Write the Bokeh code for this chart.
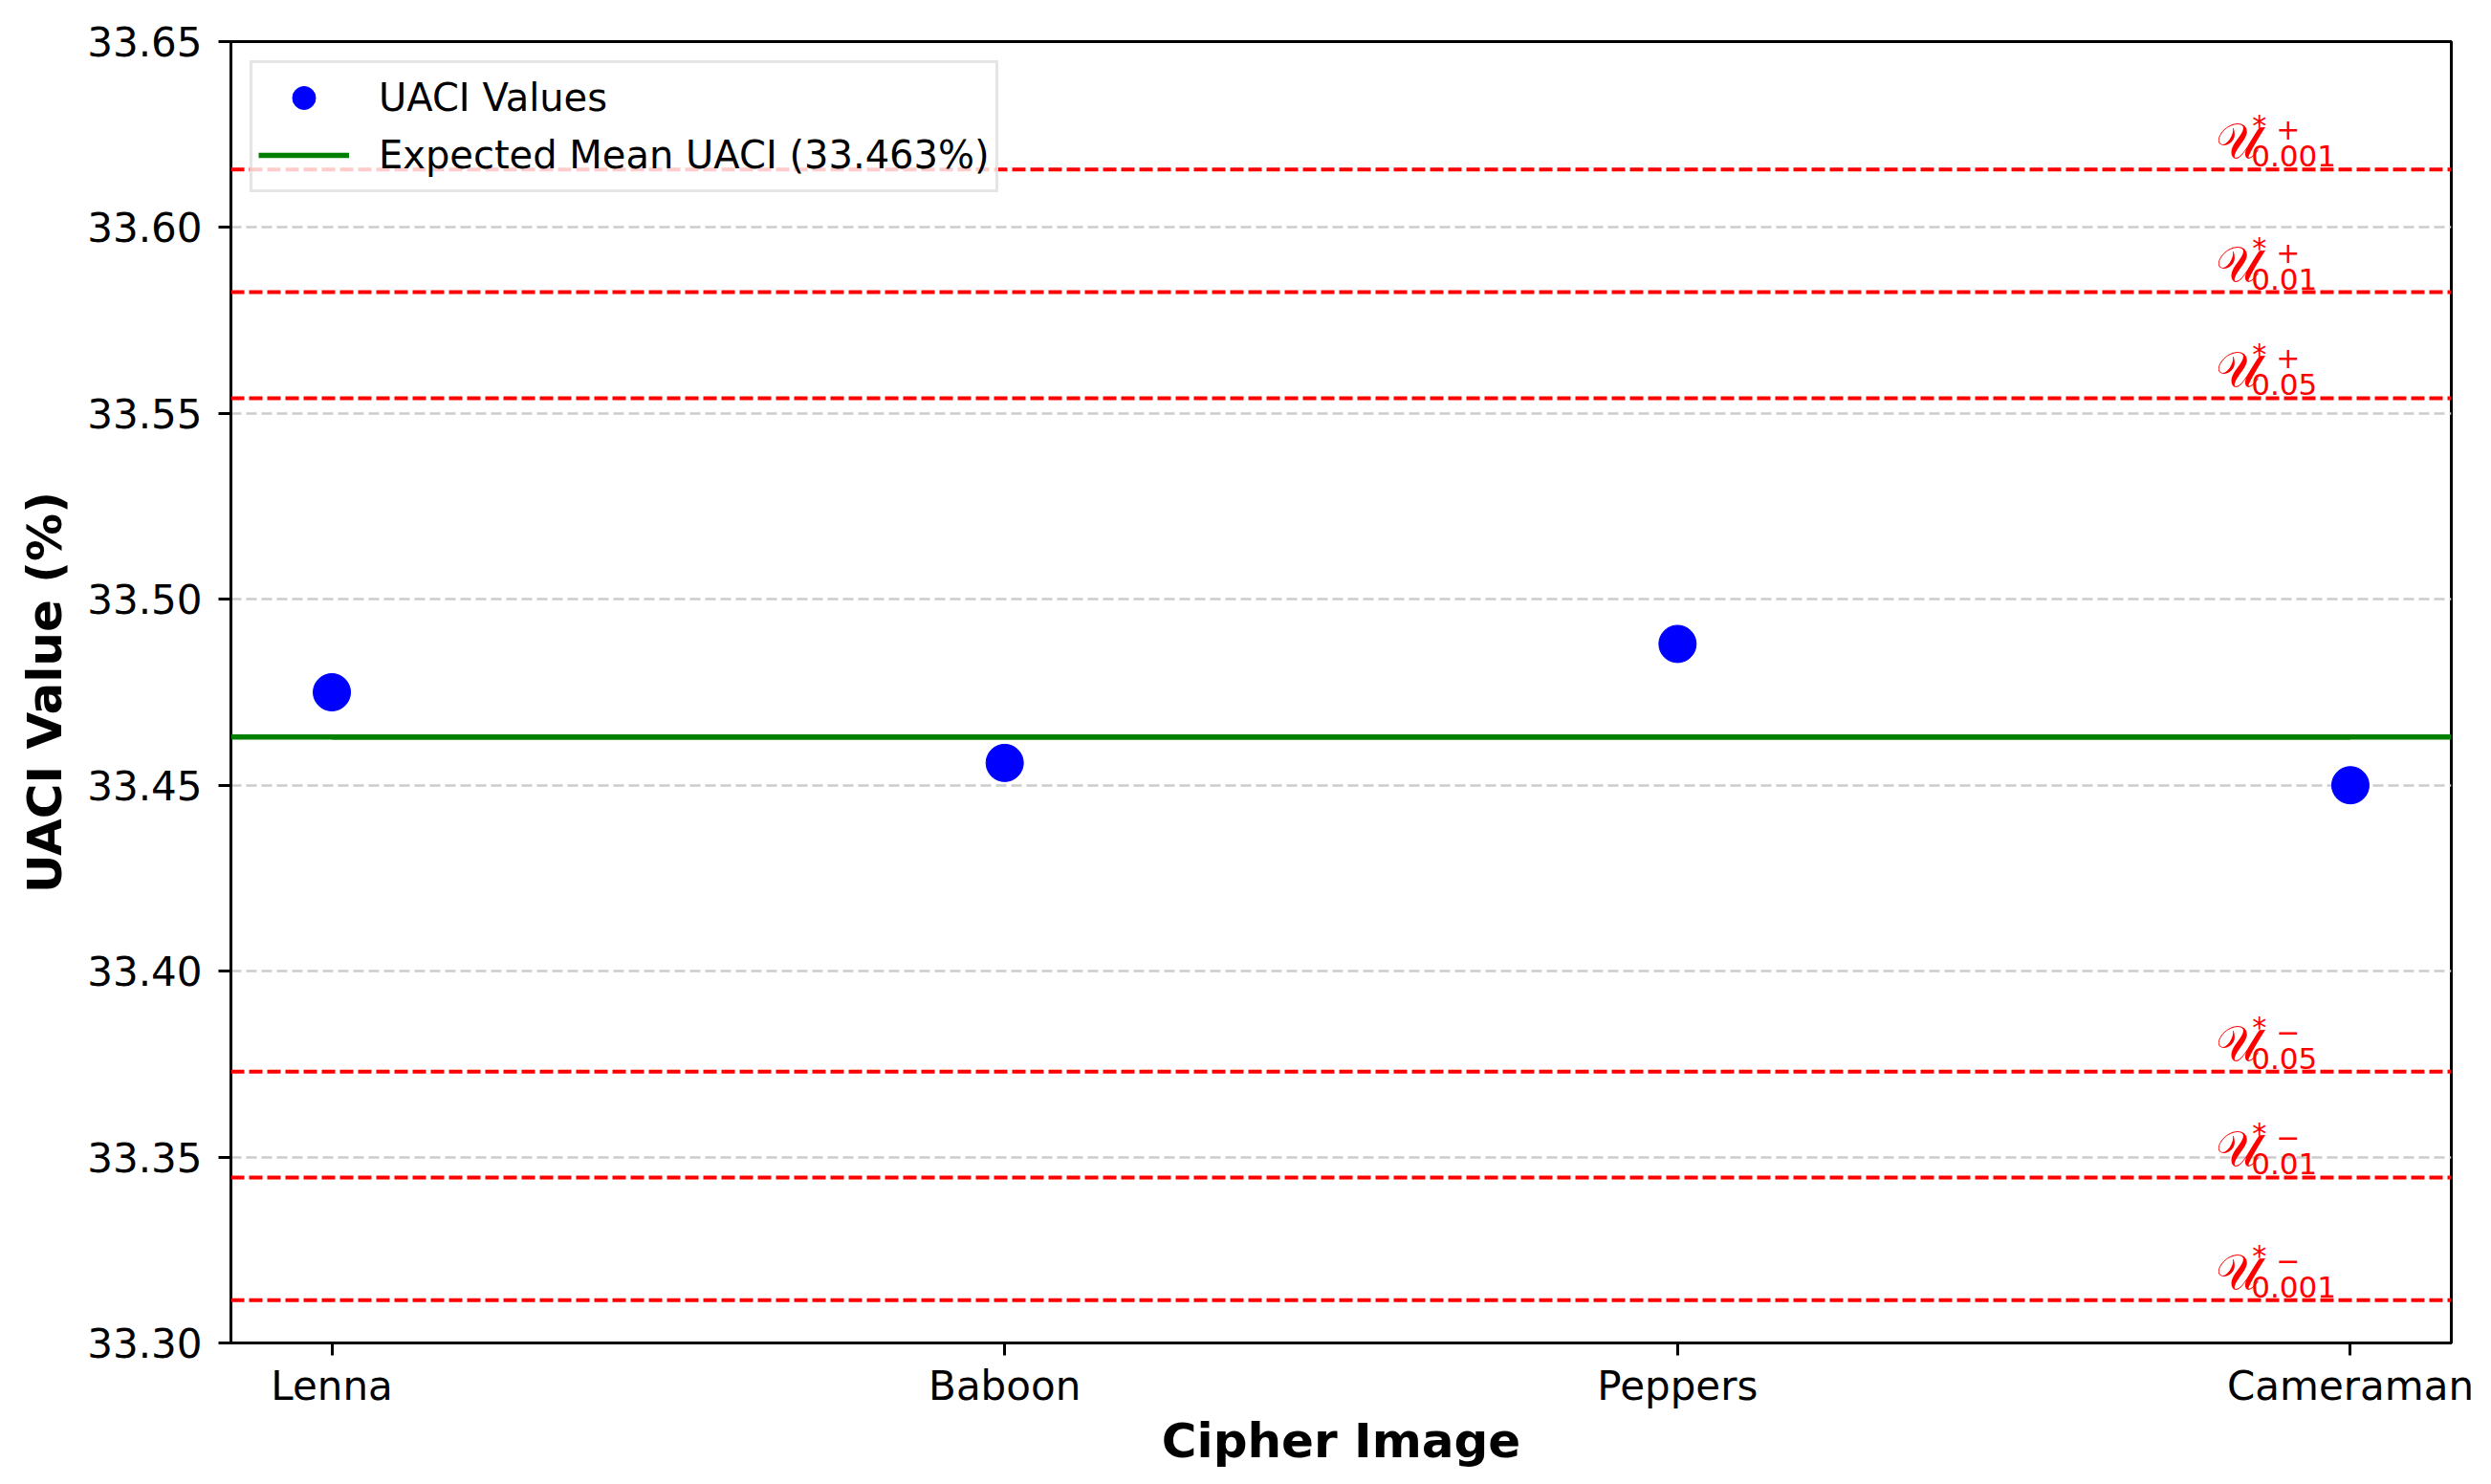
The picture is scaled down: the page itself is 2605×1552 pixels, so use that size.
from bokeh.plotting import figure
from bokeh.models import FixedTicker, PrintfTickFormatter, Span, Legend, LegendItem, ColumnDataSource
from bokeh.embed import file_html
from bokeh.resources import INLINE
from bokeh.core.properties import value

# ---- data ----
images = ["Lenna", "Baboon", "Peppers", "Cameraman"]
uaci = [33.475, 33.456, 33.488, 33.450]
expected_mean = 33.463
crit_levels = ["0.05", "0.01", "0.001"]
crit_upper = [33.5541, 33.5826, 33.6156]
crit_lower = [33.3730, 33.3445, 33.3115]
y_ticks = [33.30, 33.35, 33.40, 33.45, 33.50, 33.55, 33.60, 33.65]

FONT = "DejaVu Sans"
x_idx = list(range(len(images)))
pad = 0.05 * (len(images) - 1)

p = figure(frame_width=2322, frame_height=1361, output_backend="svg", toolbar_location=None,
           x_range=(-pad, len(images) - 1 + pad), y_range=(y_ticks[0], y_ticks[-1]),
           min_border_left=241, min_border_right=26, min_border_top=43, min_border_bottom=132)
p.background_fill_color = "white"
p.border_fill_color = "white"
p.outline_line_color = "black"
p.outline_line_width = 3
p.outline_line_alpha = 1

p.xgrid.visible = False
p.ygrid.grid_line_color = "#cccccc"
p.ygrid.grid_line_width = 2.5
p.ygrid.grid_line_dash = "11 5"

p.yaxis.ticker = FixedTicker(ticks=y_ticks)
p.yaxis.formatter = PrintfTickFormatter(format="%.2f")
p.xaxis.ticker = FixedTicker(ticks=x_idx)
p.xaxis.major_label_overrides = {i: name for i, name in zip(x_idx, images)}

for ax in (p.xaxis[0], p.yaxis[0]):
    ax.axis_line_color = "black"
    ax.axis_line_width = 3
    ax.major_tick_line_color = "black"
    ax.major_tick_line_width = 3
    ax.major_tick_in = 0
    ax.major_tick_out = 13
    ax.minor_tick_line_color = None
    ax.major_label_text_font = FONT
    ax.major_label_text_font_size = "42px"
    ax.major_label_text_color = "black"
    ax.axis_label_text_font = FONT
    ax.axis_label_text_font_size = "50px"
    ax.axis_label_text_font_style = "bold"
    ax.axis_label_text_color = "black"

p.xaxis.axis_label = "Cipher Image"
p.yaxis.axis_label = "UACI Value (%)"
p.xaxis.major_label_standoff = 7
p.yaxis.major_label_standoff = 17
p.xaxis.axis_label_standoff = 1
p.yaxis.axis_label_standoff = 12

# critical value lines
for v in crit_upper + crit_lower:
    p.add_layout(Span(location=v, dimension="width", line_color="red",
                      line_width=4, line_dash="14 5"))

# expected mean line (full width span + line renderer for the legend)
p.add_layout(Span(location=expected_mean, dimension="width", line_color="green",
                  line_width=5.5))
mean_leg = p.line(x=[x_idx[0], x_idx[-1]], y=[expected_mean, expected_mean],
                  line_color="green", line_width=5.5)

pts = p.scatter(x=x_idx, y=uaci, size=39, color="blue")

# critical value labels
lx = len(images) - 1.2
vals = crit_upper + crit_lower
signs = ["+"] * len(crit_upper) + ["\u2212"] * len(crit_lower)
subs = crit_levels + crit_levels
src = ColumnDataSource(dict(x=[lx] * len(vals), y=vals, u=["\U0001D4B0"] * len(vals),
                            star=["*"] * len(vals), sign=signs, sub=subs))
p.text(x="x", y="y", text="u", source=src, text_font=value("DejaVu Serif"),
       text_font_size="52px", text_color="red", text_align="left",
       text_baseline="alphabetic", y_offset=-30)
p.text(x="x", y="y", text="star", source=src, text_font=value(FONT),
       text_font_size="30px", text_color="red", text_align="left",
       text_baseline="alphabetic", x_offset=38, y_offset=-46)
p.text(x="x", y="y", text="sign", source=src, text_font=value(FONT),
       text_font_size="30px", text_color="red", text_align="left",
       text_baseline="alphabetic", x_offset=63, y_offset=-42)
p.text(x="x", y="y", text="sub", source=src, text_font=value(FONT),
       text_font_size="31px", text_color="red", text_align="left",
       text_baseline="alphabetic", x_offset=37, y_offset=-14)

legend = Legend(items=[LegendItem(label="UACI Values", renderers=[pts]),
                       LegendItem(label="Expected Mean UACI (33.463%)", renderers=[mean_leg])],
                location="top_left", margin=20, padding=6, spacing=0,
                glyph_width=95, glyph_height=60, label_height=60, label_standoff=31,
                label_text_font=FONT, label_text_font_size="40px", label_text_color="black",
                border_line_color="#cccccc", border_line_width=3,
                background_fill_color="white", background_fill_alpha=0.8)
p.add_layout(legend)

open("out.html", "w").write(file_html(p, INLINE))
